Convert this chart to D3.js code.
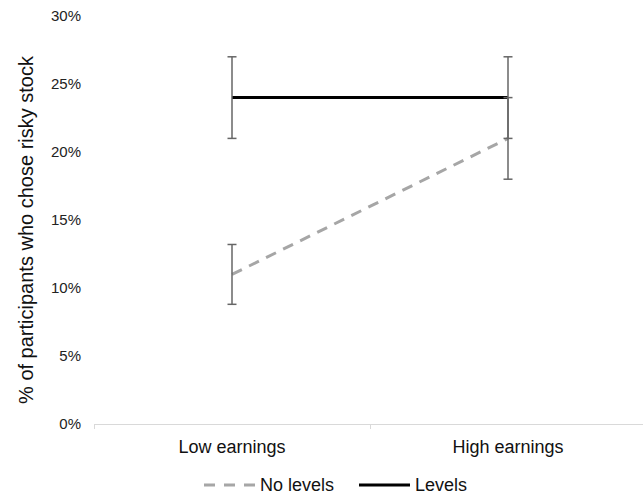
<!DOCTYPE html>
<html>
<head>
<meta charset="utf-8">
<script src="https://cdn.jsdelivr.net/npm/d3@7"></script>
<style>
  body { margin: 0; background: #fff; }
  svg { font-family: "Liberation Sans", Arial, sans-serif; }
</style>
</head>
<body>
<svg id="chart" width="643" height="494"></svg>
<script>
// Share of participants choosing the risky stock, by earnings group
const categories = ["Low earnings", "High earnings"];
const seriesNames = ["No levels", "Levels"];
const noLevels = [11, 21];
const noLevelsErr = [2.2, 3];
const levels = [24, 24];
const levelsErr = [3, 3];
const yTicks = [0, 5, 10, 15, 20, 25, 30];

const svg = d3.select("#chart");
const plotLeft = 94, plotRight = 646, plotTop = 16, plotBottom = 424;

const x = d3.scaleBand().domain(categories).range([plotLeft, plotRight]);
const y = d3.scaleLinear().domain([0, 30]).range([plotBottom, plotTop]);
const cx = c => x(c) + x.bandwidth() / 2;

// y tick labels (no axis line)
svg.append("g").selectAll("text").data(yTicks).join("text")
  .attr("x", 81).attr("y", d => y(d)).attr("dy", "0.35em")
  .attr("text-anchor", "end").attr("font-size", 15).attr("fill", "#222")
  .text(d => d + "%");

// x axis baseline and category separators
const xAxis = svg.append("g");
xAxis.append("line").attr("x1", plotLeft).attr("x2", plotRight)
  .attr("y1", plotBottom + 0.5).attr("y2", plotBottom + 0.5)
  .attr("stroke", "#d9d9d9").attr("stroke-width", 1);
const sepPositions = [plotLeft, x(categories[1])];
xAxis.selectAll("line.sep").data(sepPositions).join("line")
  .attr("class", "sep")
  .attr("x1", d => d + 0.5).attr("x2", d => d + 0.5)
  .attr("y1", plotBottom).attr("y2", plotBottom + 5)
  .attr("stroke", "#d9d9d9").attr("stroke-width", 1);
xAxis.selectAll("text").data(categories).join("text")
  .attr("x", d => cx(d)).attr("y", 447).attr("dy", "0.35em")
  .attr("text-anchor", "middle").attr("font-size", 18).attr("fill", "#111")
  .text(d => d);

// y axis title
svg.append("text")
  .attr("transform", "translate(26,230) rotate(-90)")
  .attr("text-anchor", "middle").attr("dy", "0.35em")
  .attr("font-size", 20).attr("fill", "#111")
  .text("% of participants who chose risky stock");

// series lines
const line = d3.line().x((d, i) => cx(categories[i])).y(d => y(d));
svg.append("path").datum(noLevels).attr("d", line)
  .attr("fill", "none").attr("stroke", "#a6a6a6").attr("stroke-width", 3)
  .attr("stroke-dasharray", "11,8");
svg.append("path").datum(levels).attr("d", line)
  .attr("fill", "none").attr("stroke", "#000").attr("stroke-width", 3);

// error bars
function errorBars(values, errs) {
  const g = svg.append("g").attr("stroke", "#666").attr("stroke-width", 1.5);
  values.forEach((v, i) => {
    const px = cx(categories[i]);
    g.append("line").attr("x1", px).attr("x2", px)
      .attr("y1", y(v + errs[i])).attr("y2", y(v - errs[i]));
    [v + errs[i], v - errs[i]].forEach(e => {
      g.append("line").attr("x1", px - 4.5).attr("x2", px + 4.5)
        .attr("y1", y(e)).attr("y2", y(e));
    });
  });
}
errorBars(noLevels, noLevelsErr);
errorBars(levels, levelsErr);

// legend
const legend = svg.append("g");
const legendItems = [
  { name: seriesNames[0], x: 204, color: "#a6a6a6", dash: "11,9" },
  { name: seriesNames[1], x: 359, color: "#000", dash: null }
];
legendItems.forEach(it => {
  legend.append("line").attr("x1", it.x).attr("x2", it.x + 51)
    .attr("y1", 485).attr("y2", 485)
    .attr("stroke", it.color).attr("stroke-width", 3)
    .attr("stroke-dasharray", it.dash);
  legend.append("text").attr("x", it.x + 56).attr("y", 485).attr("dy", "0.35em")
    .attr("font-size", 18).attr("fill", "#111").text(it.name);
});
</script>
</body>
</html>
